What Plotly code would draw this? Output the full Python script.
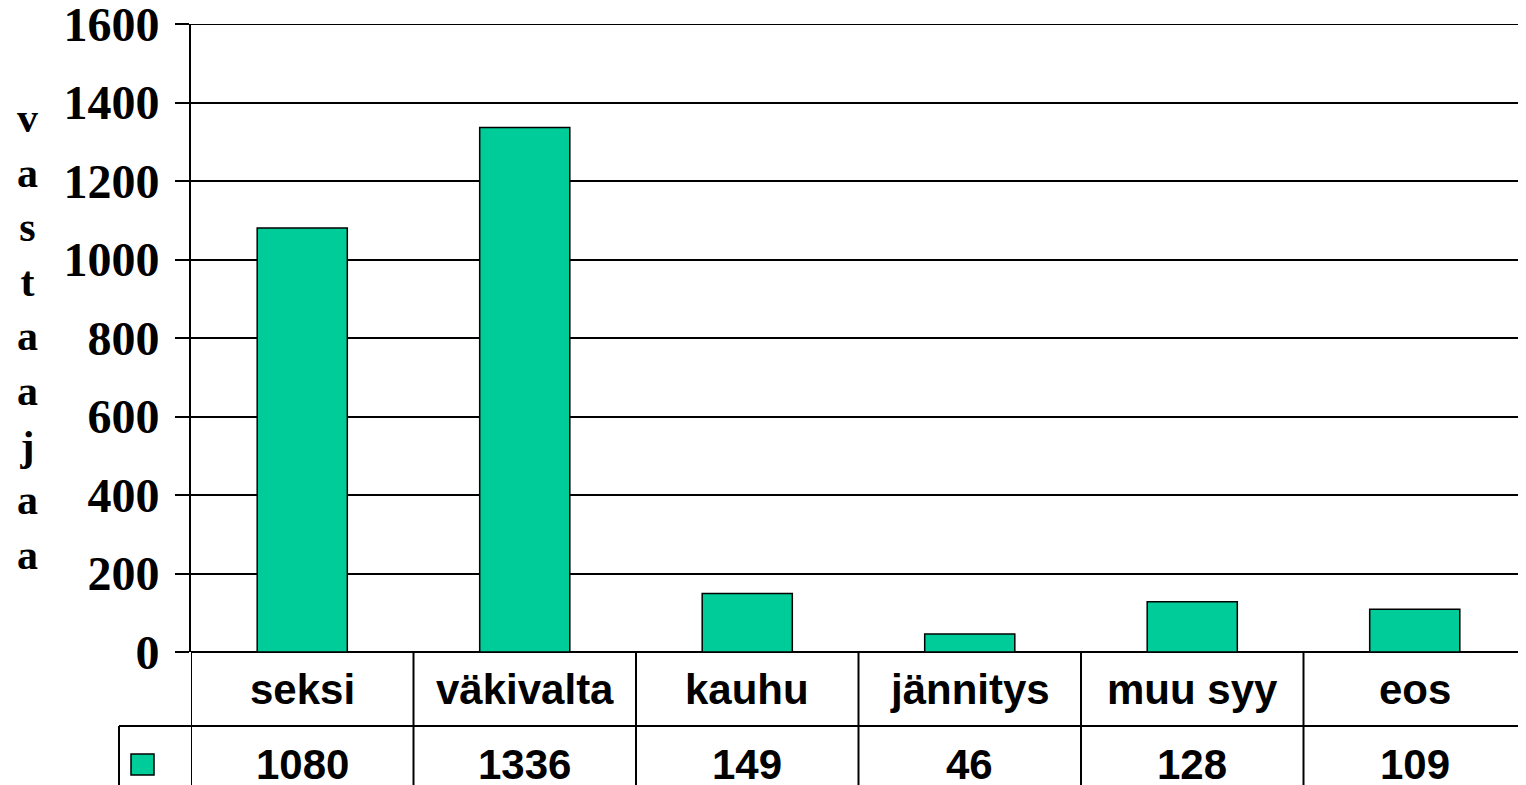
import plotly.graph_objects as go

categories = ["seksi", "väkivalta", "kauhu", "jännitys", "muu syy", "eos"]
values = [1080, 1336, 149, 46, 128, 109]
y_ticks = [0, 200, 400, 600, 800, 1000, 1200, 1400, 1600]
y_title = "vastaajaa"

BAR = "#00CC99"
OFF = 8  # page body margin
W, H = 1526 - OFF, 785 - OFF
ML, MR, MT, MB = 191 - OFF, 0, 24 - OFF, 785 - 652
PW, PH = W - ML - MR, H - MT - MB

def py(px):  # reference pixel y -> paper y
    return (785 - MB - px) / PH

def pxx(px):  # reference pixel x -> paper x
    return (px - 191) / PW

n = len(categories)
xs = list(range(n))
ymax = y_ticks[-1]

fig = go.Figure(go.Bar(
    x=xs, y=values, width=0.405,
    marker=dict(color=BAR, line=dict(color="black", width=1.5)),
))

shapes = []
shapes.append(dict(type="line", xref="paper", yref="y", x0=0, x1=1, y0=ymax, y1=ymax,
                   line=dict(color="black", width=2)))
row_y = py(726)
bot_y = py(800)
shapes.append(dict(type="line", xref="paper", yref="paper", x0=pxx(119), x1=1, y0=row_y, y1=row_y,
                   line=dict(color="black", width=2)))
shapes.append(dict(type="line", xref="paper", yref="paper", x0=pxx(119), x1=pxx(119), y0=row_y, y1=bot_y,
                   line=dict(color="black", width=2)))
for i in range(n):
    shapes.append(dict(type="line", xref="x", yref="paper", x0=i - 0.5, x1=i - 0.5, y0=0, y1=bot_y,
                       line=dict(color="black", width=2)))
shapes.append(dict(type="rect", xref="paper", yref="paper", x0=pxx(131), x1=pxx(154), y0=py(775), y1=py(754),
                   fillcolor=BAR, line=dict(color="black", width=1.5)))

annotations = []
tfont = dict(family="Liberation Sans", size=42, color="black", weight="bold")
for i, (c, v) in enumerate(zip(categories, values)):
    annotations.append(dict(x=i, y=py(689), xref="x", yref="paper", text=c, showarrow=False,
                            font=tfont, xanchor="center", yanchor="middle"))
    annotations.append(dict(x=i, y=py(764), xref="x", yref="paper", text=str(v), showarrow=False,
                            font=tfont, xanchor="center", yanchor="middle"))
annotations.append(dict(x=pxx(27), y=py(336), xref="paper", yref="paper",
                        text="<br>".join(list(y_title)), showarrow=False,
                        font=dict(family="Liberation Serif", size=42, color="black", weight="bold"),
                        xanchor="center", yanchor="middle"))

fig.update_layout(
    width=W, height=H,
    margin=dict(l=ML, r=MR, t=MT, b=MB, pad=0, autoexpand=False),
    paper_bgcolor="white", plot_bgcolor="white",
    showlegend=False,
    shapes=shapes, annotations=annotations,
    xaxis=dict(range=[-0.5, n - 0.5], showticklabels=False, showgrid=False, zeroline=False,
               showline=False, ticks="", automargin=False),
    yaxis=dict(range=[0, ymax], tickvals=y_ticks, showgrid=True, gridcolor="black", gridwidth=2,
               zeroline=True, zerolinecolor="black", zerolinewidth=2,
               showline=True, linecolor="black", linewidth=2,
               ticks="outside", ticklen=14, tickcolor="black", tickwidth=2,
               ticklabelstandoff=6, ticklabeloverflow="allow", automargin=False,
               tickfont=dict(family="Liberation Serif", size=48, color="black", weight="bold")),
)

fig.write_html("out.html")
